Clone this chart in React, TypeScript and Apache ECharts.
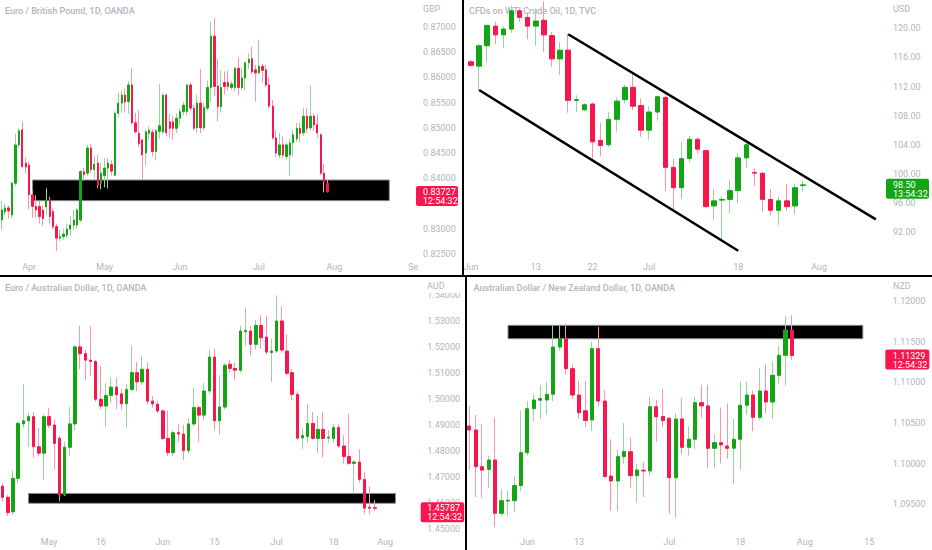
import { useEffect, useRef } from 'react';
import * as echarts from 'echarts';

// [open, close, low, high]
type Bar = [number, number, number, number];

const EURGBP: Bar[] = [
  [0.8317, 0.8337, 0.8297, 0.8355], [0.8333, 0.8341, 0.8326, 0.835], [0.8341, 0.8335, 0.832, 0.8346],
  [0.8327, 0.839, 0.832, 0.8394], [0.839, 0.8466, 0.8385, 0.8488], [0.8466, 0.8494, 0.846, 0.8499],
  [0.8496, 0.8423, 0.842, 0.8512], [0.843, 0.8422, 0.841, 0.844], [0.8426, 0.8367, 0.8338, 0.8432],
  [0.8367, 0.8344, 0.8322, 0.8375], [0.8344, 0.8337, 0.8322, 0.8366], [0.8344, 0.8324, 0.831, 0.8355],
  [0.8337, 0.832, 0.8305, 0.8346], [0.8343, 0.8357, 0.8327, 0.838], [0.8357, 0.8324, 0.831, 0.8363],
  [0.8334, 0.8304, 0.8298, 0.834], [0.8304, 0.8281, 0.8255, 0.831], [0.8281, 0.8284, 0.8275, 0.8298],
  [0.8284, 0.8289, 0.8278, 0.83], [0.8287, 0.8299, 0.8281, 0.831], [0.8299, 0.8307, 0.8285, 0.8325],
  [0.8307, 0.8317, 0.8297, 0.8337], [0.8307, 0.8337, 0.83, 0.8341], [0.8317, 0.8413, 0.8313, 0.8416],
  [0.8413, 0.8407, 0.8395, 0.842], [0.841, 0.846, 0.8405, 0.8466], [0.846, 0.8417, 0.841, 0.8468],
  [0.8417, 0.8428, 0.84, 0.8445], [0.843, 0.8386, 0.838, 0.8446], [0.839, 0.841, 0.8378, 0.843],
  [0.8405, 0.842, 0.8382, 0.844], [0.842, 0.843, 0.838, 0.844], [0.8427, 0.8414, 0.8405, 0.8436],
  [0.8406, 0.8529, 0.8404, 0.8533], [0.8529, 0.8549, 0.852, 0.857], [0.8549, 0.8565, 0.853, 0.8574],
  [0.8565, 0.8551, 0.853, 0.8578], [0.8552, 0.8585, 0.8528, 0.8593], [0.8585, 0.851, 0.8507, 0.8618],
  [0.851, 0.8492, 0.8489, 0.853], [0.8489, 0.8469, 0.8462, 0.8535], [0.8476, 0.8446, 0.8396, 0.8478],
  [0.845, 0.8492, 0.8425, 0.8497], [0.8489, 0.8495, 0.8476, 0.8503], [0.8491, 0.8453, 0.8443, 0.8497],
  [0.8453, 0.8494, 0.8436, 0.8498], [0.8493, 0.8504, 0.8478, 0.8587], [0.8492, 0.8565, 0.8488, 0.8568],
  [0.8565, 0.849, 0.8484, 0.8568], [0.8512, 0.8499, 0.848, 0.8527], [0.8512, 0.8499, 0.8476, 0.8523],
  [0.8499, 0.8519, 0.849, 0.8529], [0.8519, 0.8532, 0.8506, 0.8538], [0.8532, 0.8545, 0.8525, 0.8552],
  [0.8532, 0.8585, 0.8525, 0.8587], [0.8585, 0.8539, 0.8534, 0.859], [0.8539, 0.8499, 0.8495, 0.8546],
  [0.85, 0.8549, 0.8491, 0.8566], [0.8549, 0.85, 0.8489, 0.8617], [0.85, 0.854, 0.8493, 0.8549],
  [0.8539, 0.858, 0.8534, 0.8594], [0.858, 0.8682, 0.855, 0.8711], [0.8682, 0.8582, 0.8564, 0.8717],
  [0.8583, 0.8542, 0.8513, 0.8637], [0.8542, 0.858, 0.853, 0.8614], [0.859, 0.8582, 0.8566, 0.8612],
  [0.859, 0.8582, 0.8574, 0.8614], [0.858, 0.8587, 0.8575, 0.8592], [0.858, 0.8618, 0.8572, 0.8621],
  [0.8618, 0.858, 0.8565, 0.864], [0.858, 0.8599, 0.8575, 0.862], [0.8599, 0.8629, 0.8574, 0.8632],
  [0.8629, 0.8636, 0.8616, 0.8648], [0.8637, 0.8611, 0.8606, 0.8661], [0.8615, 0.8609, 0.8552, 0.8625],
  [0.8609, 0.8622, 0.8607, 0.8675], [0.8622, 0.8614, 0.859, 0.8627], [0.8615, 0.8585, 0.858, 0.8625],
  [0.8585, 0.8543, 0.8538, 0.8601], [0.8543, 0.848, 0.8476, 0.8555], [0.848, 0.845, 0.8443, 0.8496],
  [0.8446, 0.8466, 0.844, 0.849], [0.8466, 0.8446, 0.844, 0.8483], [0.8443, 0.8466, 0.8437, 0.847],
  [0.8446, 0.847, 0.8404, 0.8478], [0.847, 0.8486, 0.8442, 0.8496], [0.8478, 0.8499, 0.8472, 0.851],
  [0.8499, 0.8489, 0.8472, 0.851], [0.849, 0.8523, 0.8484, 0.854], [0.8523, 0.8499, 0.849, 0.854],
  [0.85, 0.8523, 0.8495, 0.8584], [0.8523, 0.8506, 0.8494, 0.8529], [0.8506, 0.849, 0.848, 0.8526],
  [0.8486, 0.841, 0.8406, 0.849], [0.841, 0.8393, 0.8372, 0.8428], [0.839, 0.83727, 0.8372, 0.8398],
];

const WTI: Bar[] = [
  [115.4, 114.9, 114.7, 115.65], [114.8, 117.6, 111.5, 117.85], [117.6, 120.4, 115.4, 120.5],
  [120.3, 119.1, 117.8, 120.9], [119.1, 119.9, 117.25, 120.3], [119.9, 122.4, 119.4, 123.1],
  [122.4, 121.5, 120.9, 122.7], [121.5, 120.3, 118.5, 122.1], [120.3, 121.0, 117.6, 122.7],
  [121.1, 119.1, 116.8, 123.7], [119.0, 115.8, 114.7, 119.5], [115.8, 117.0, 113.6, 118.1],
  [117.0, 110.1, 108.4, 119.2], [110.1, 110.2, 108.5, 110.8], [108.8, 109.5, 108.6, 109.7],
  [109.6, 104.4, 101.9, 109.8], [104.6, 103.9, 102.4, 107.0], [104.0, 107.5, 103.7, 108.55],
  [107.5, 110.0, 105.8, 110.5], [110.2, 111.9, 109.7, 112.2], [111.9, 109.3, 108.8, 114.0],
  [109.4, 106.0, 105.1, 110.4], [106.0, 108.5, 104.7, 109.3], [108.5, 110.6, 107.3, 110.75],
  [110.5, 100.9, 97.6, 110.9], [100.9, 98.1, 95.0, 102.1], [98.1, 102.1, 96.6, 104.4],
  [102.1, 104.75, 101.6, 105.2], [104.75, 103.4, 102.8, 105.1], [103.2, 95.5, 95.4, 103.3],
  [95.6, 96.3, 93.7, 97.9], [96.4, 96.5, 90.7, 96.9], [96.5, 97.7, 94.6, 99.1],
  [97.7, 102.2, 96.0, 102.9], [102.2, 104.0, 100.8, 104.3], [100.2, 100.1, 98.3, 100.75],
  [100.1, 96.5, 94.8, 100.2], [96.5, 95.0, 94.3, 97.9], [95.0, 96.3, 93.0, 96.9],
  [96.3, 95.5, 94.9, 98.6], [95.6, 98.1, 94.4, 98.7], [98.4, 98.5, 97.6, 99.1],
];

const EURAUD: Bar[] = [
  [1.4664, 1.4621, 1.4605, 1.4674], [1.4621, 1.4562, 1.4549, 1.463], [1.4565, 1.4694, 1.4552, 1.4724],
  [1.4694, 1.4906, 1.4676, 1.4912], [1.4904, 1.4916, 1.4888, 1.5057], [1.4916, 1.4932, 1.4816, 1.4947],
  [1.4932, 1.4816, 1.4773, 1.495], [1.4816, 1.4791, 1.478, 1.4888], [1.4791, 1.4932, 1.4688, 1.4942],
  [1.4932, 1.4899, 1.4888, 1.4966], [1.49, 1.4829, 1.4728, 1.492], [1.4849, 1.463, 1.4605, 1.4859],
  [1.463, 1.4814, 1.4626, 1.4836], [1.4814, 1.4904, 1.4781, 1.4969], [1.4904, 1.5201, 1.488, 1.5207],
  [1.5201, 1.5175, 1.5115, 1.5282], [1.5175, 1.515, 1.5073, 1.519], [1.515, 1.5145, 1.5088, 1.5282],
  [1.5145, 1.4999, 1.499, 1.515], [1.4999, 1.4973, 1.496, 1.5127], [1.4973, 1.5014, 1.4893, 1.506],
  [1.5014, 1.5046, 1.4985, 1.5082], [1.5046, 1.5016, 1.496, 1.5082], [1.502, 1.4982, 1.4958, 1.504],
  [1.4982, 1.5037, 1.489, 1.506], [1.5037, 1.5102, 1.503, 1.5207], [1.5102, 1.5066, 1.503, 1.5143],
  [1.5066, 1.5115, 1.5055, 1.5165], [1.5115, 1.4992, 1.498, 1.5141], [1.4992, 1.4981, 1.4967, 1.5011],
  [1.498, 1.4954, 1.4945, 1.4993], [1.4954, 1.4848, 1.4841, 1.496], [1.4848, 1.4793, 1.478, 1.4954],
  [1.4793, 1.487, 1.4778, 1.488], [1.487, 1.4865, 1.4835, 1.4905], [1.4865, 1.4801, 1.4764, 1.49],
  [1.4801, 1.4904, 1.479, 1.4926], [1.4904, 1.4967, 1.4895, 1.5044], [1.4967, 1.4938, 1.4835, 1.4975],
  [1.4938, 1.5031, 1.4918, 1.5061], [1.5031, 1.5162, 1.502, 1.5189], [1.5162, 1.4916, 1.488, 1.5194],
  [1.4916, 1.4969, 1.4862, 1.5092], [1.4969, 1.513, 1.496, 1.5138], [1.5134, 1.5118, 1.5102, 1.515],
  [1.5118, 1.5111, 1.5075, 1.514], [1.5111, 1.5262, 1.5102, 1.5282], [1.526, 1.5265, 1.5206, 1.5352],
  [1.5262, 1.5211, 1.5168, 1.5282], [1.5211, 1.5284, 1.519, 1.5304], [1.5284, 1.5236, 1.5193, 1.5323],
  [1.5239, 1.5181, 1.5171, 1.532], [1.5179, 1.5185, 1.5065, 1.5233], [1.5185, 1.5301, 1.5178, 1.54],
  [1.5301, 1.5189, 1.5178, 1.5357], [1.5185, 1.5099, 1.5091, 1.5249], [1.5102, 1.5018, 1.4995, 1.5115],
  [1.5018, 1.4849, 1.484, 1.503], [1.485, 1.4859, 1.4808, 1.489], [1.4855, 1.4906, 1.4832, 1.4981],
  [1.4906, 1.4848, 1.4843, 1.495], [1.4848, 1.4883, 1.4792, 1.4935], [1.4883, 1.4848, 1.4775, 1.495],
  [1.485, 1.4853, 1.483, 1.488], [1.4848, 1.489, 1.483, 1.4905], [1.489, 1.4819, 1.481, 1.4905],
  [1.4819, 1.4778, 1.4751, 1.486], [1.4778, 1.4752, 1.4745, 1.4943], [1.4752, 1.4757, 1.464, 1.4766],
  [1.4757, 1.469, 1.4677, 1.4806], [1.469, 1.4579, 1.4557, 1.472], [1.4583, 1.4579, 1.4557, 1.4662],
  [1.4581, 1.45787, 1.4569, 1.461],
];

const AUDNZD: Bar[] = [
  [1.10463, 1.10414, 1.09922, 1.10709], [1.10414, 1.09963, 1.0959, 1.106], [1.09963, 1.0992, 1.0958, 1.1048],
  [1.0993, 1.10045, 1.097, 1.101], [1.10045, 1.0939, 1.0922, 1.1056], [1.0939, 1.09545, 1.0936, 1.0969],
  [1.0954, 1.0955, 1.0935, 1.0967], [1.09545, 1.0973, 1.094, 1.0985], [1.0973, 1.10135, 1.0966, 1.10655],
  [1.10135, 1.10676, 1.101, 1.1077], [1.10676, 1.10783, 1.1052, 1.1085], [1.1078, 1.108, 1.1055, 1.1097],
  [1.10783, 1.10853, 1.106, 1.11], [1.10853, 1.11434, 1.1077, 1.117], [1.11434, 1.11536, 1.1139, 1.117],
  [1.11536, 1.11168, 1.111, 1.1172], [1.11168, 1.10844, 1.108, 1.1122], [1.10844, 1.10627, 1.1055, 1.1102],
  [1.1065, 1.1053, 1.1045, 1.1102], [1.10537, 1.11414, 1.104, 1.115], [1.11414, 1.1077, 1.107, 1.1168],
  [1.1077, 1.09842, 1.0982, 1.109], [1.09848, 1.09787, 1.0942, 1.103], [1.09787, 1.10086, 1.0942, 1.1017],
  [1.10086, 1.1015, 1.1, 1.105], [1.10147, 1.09852, 1.097, 1.1032], [1.09852, 1.09922, 1.0952, 1.1],
  [1.0992, 1.0991, 1.0959, 1.1002], [1.0991, 1.107, 1.0985, 1.10823], [1.107, 1.10577, 1.1027, 1.1078],
  [1.1058, 1.1053, 1.1045, 1.1092], [1.10558, 1.09827, 1.0938, 1.1057], [1.09827, 1.10548, 1.0933, 1.1062],
  [1.1055, 1.10201, 1.1012, 1.10804], [1.10201, 1.103, 1.101, 1.1046], [1.103, 1.1075, 1.1018, 1.1082],
  [1.1075, 1.1071, 1.1057, 1.1097], [1.1071, 1.10189, 1.0995, 1.1097], [1.10189, 1.10258, 1.0995, 1.1036],
  [1.10258, 1.1023, 1.1, 1.1069], [1.10217, 1.10189, 1.1006, 1.1074], [1.1019, 1.103, 1.0975, 1.1055],
  [1.103, 1.10718, 1.0992, 1.1101], [1.10718, 1.10844, 1.106, 1.1101], [1.10844, 1.1057, 1.104, 1.109],
  [1.1057, 1.10893, 1.1053, 1.1118], [1.10893, 1.10758, 1.1062, 1.1122], [1.10758, 1.11086, 1.1055, 1.1126],
  [1.11086, 1.11332, 1.1098, 1.1145], [1.11332, 1.11643, 1.1096, 1.1181], [1.11643, 1.11329, 1.1127, 1.11826],
];

// date tick labels: category index -> text
const EURGBP_TICK_POS = [8, 30, 52, 75, 97, 120];
const EURGBP_TICK_TXT = ['Apr', 'May', 'Jun', 'Jul', 'Aug', 'Se'];
const WTI_TICK_POS = [0, 8, 15, 22, 33, 43];
const WTI_TICK_TXT = ['Jun', '13', '22', 'Jul', '18', 'Aug'];
const EURAUD_TICK_POS = [9, 19, 31, 41, 53, 64, 74];
const EURAUD_TICK_TXT = ['May', '16', 'Jun', '15', 'Jul', '18', 'Aug'];
const AUDNZD_TICK_POS = [9, 17, 31, 42, 52, 62];
const AUDNZD_TICK_TXT = ['Jun', '13', 'Jul', '18', 'Aug', '15'];

// price tick labels
const EURGBP_PRICES = [0.825, 0.83, 0.84, 0.845, 0.85, 0.855, 0.86, 0.865, 0.87];
const WTI_PRICES = [92, 96, 100, 104, 108, 112, 116, 120];
const EURAUD_PRICES = [1.45, 1.46, 1.47, 1.48, 1.49, 1.5, 1.51, 1.52, 1.53, 1.54];
const AUDNZD_PRICES = [1.095, 1.1, 1.105, 1.11, 1.115, 1.12];

// drawn zones [fromIndex, toIndex, lowPrice, highPrice]
const EURGBP_ZONE = [9, 113, 0.83554, 0.83964];
const EURAUD_ZONE = [5, 76, 1.4598, 1.4636];
const AUDNZD_ZONE = [6, 61, 1.11536, 1.11701];
// channel lines [[i1, p1], [i2, p2]]
const WTI_CHANNEL = [
  [[12, 119.18], [50, 93.76]],
  [[1, 111.52], [33, 89.45]],
];

const TITLES = [
  'Euro / British Pound, 1D, OANDA',
  'CFDs on WTI Crude Oil, 1D, TVC',
  'Euro / Australian Dollar, 1D, OANDA',
  'Australian Dollar / New Zealand Dollar, 1D, OANDA',
];
const CURRENCIES = ['GBP', 'USD', 'AUD', 'NZD'];
const COUNTDOWNS = ['12:54:32', '13:54:32', '12:54:32', '12:54:32'];

const UP = '#14a514';
const DOWN = '#f8174c';
const UP_WICK = '#98d698';
const DOWN_WICK = '#ff93ab';
const TEXT = '#b2b5be';
const FONT = 'Roboto, "Noto Sans", sans-serif';

export default function App() {
  const ref = useRef<HTMLDivElement>(null);

  useEffect(() => {
    if (!ref.current) return;
    const chart = echarts.init(ref.current, undefined, { renderer: 'svg' });

    const panels = [
      {
        data: EURGBP, ticksPos: EURGBP_TICK_POS, ticksTxt: EURGBP_TICK_TXT, prices: EURGBP_PRICES, digits: 5,
        grid: { left: 0, top: 0, width: 415, height: 258 }, n: 121, ymin: 0.824167, ymax: 0.875357,
        body: 1.8, ymargin: 8, zone: EURGBP_ZONE, lines: null as any,
        title: [5, 11], cur: [423, 8.5], tag: [416, 42, 423], tagColor: DOWN,
      },
      {
        data: WTI, ticksPos: WTI_TICK_POS, ticksTxt: WTI_TICK_TXT, prices: WTI_PRICES, digits: 2,
        grid: { left: 467, top: 0, width: 421, height: 258 }, n: 52, ymin: 88.448, ymax: 123.887,
        body: 5, ymargin: 5, zone: null as any, lines: WTI_CHANNEL,
        title: [469, 10.5], cur: [893, 8.5], tag: [886, 43, 893], tagColor: UP,
      },
      {
        data: EURAUD, ticksPos: EURAUD_TICK_POS, ticksTxt: EURAUD_TICK_TXT, prices: EURAUD_PRICES, digits: 5,
        grid: { left: 0, top: 278, width: 413.6, height: 255 }, n: 80, ymin: 1.448331, ymax: 1.546672,
        body: 3, ymargin: 13.7, zone: EURAUD_ZONE, lines: null as any,
        title: [5, 288], cur: [427, 286], tag: [420.7, 43.5, 427.3], tagColor: DOWN,
      },
      {
        data: AUDNZD, ticksPos: AUDNZD_TICK_POS, ticksTxt: AUDNZD_TICK_TXT, prices: AUDNZD_PRICES, digits: 5,
        grid: { left: 466.1, top: 278, width: 419.3, height: 255 }, n: 65, ymin: 1.091474, ymax: 1.122828,
        body: 3.7, ymargin: 7.3, zone: AUDNZD_ZONE, lines: null as any,
        title: [473.5, 288], cur: [893, 286], tag: [885.3, 44, 892.7], tagColor: DOWN,
      },
    ];

    const grids: any[] = [];
    const xAxes: any[] = [];
    const yAxes: any[] = [];
    const series: any[] = [];

    panels.forEach((p, k) => {
      grids.push({ ...p.grid, outerBoundsMode: 'none', containLabel: false });
      const tickMap: Record<number, string> = {};
      p.ticksPos.forEach((pos, i) => { tickMap[pos] = p.ticksTxt[i]; });
      xAxes.push({
        type: 'category', gridIndex: k, boundaryGap: true,
        data: Array.from({ length: p.n }, (_, i) => String(i)),
        axisLine: { show: false }, axisTick: { show: false }, splitLine: { show: false },
        axisLabel: {
          interval: 0, margin: 4, color: TEXT, fontSize: 9, fontFamily: FONT,
          formatter: (v: string) => tickMap[Number(v)] ?? '',
        },
      });
      yAxes.push({
        type: 'value', gridIndex: k, position: 'right', min: p.ymin, max: p.ymax,
        axisLine: { show: false }, axisTick: { show: false }, splitLine: { show: false },
        axisLabel: {
          customValues: p.prices, margin: p.ymargin, color: TEXT, fontSize: 9, fontFamily: FONT,
          formatter: (v: number) => v.toFixed(p.digits),
        },
      });
      const wick: any = {
        type: 'candlestick', xAxisIndex: k, yAxisIndex: k, z: 2,
        data: p.data.map((d) => [d[0], d[1], d[2], d[3]]),
        barWidth: 0.5,
        itemStyle: { color: UP_WICK, color0: DOWN_WICK, borderColor: UP_WICK, borderColor0: DOWN_WICK, borderWidth: 1 },
        silent: true,
      };
      if (p.zone) {
        wick.markArea = {
          silent: true,
          itemStyle: { color: '#000', borderColor: '#8a8d96', borderWidth: 1 },
          data: [[{ coord: [p.zone[0], p.zone[3]] }, { coord: [p.zone[1], p.zone[2]] }]],
        };
      }
      if (p.lines) {
        wick.markLine = {
          silent: true, symbol: ['none', 'none'], label: { show: false },
          lineStyle: { color: '#000', width: 2.5, type: 'solid' },
          data: p.lines.map((l: number[][]) => [{ coord: l[0] }, { coord: l[1] }]),
        };
      }
      series.push(wick);
      series.push({
        type: 'candlestick', xAxisIndex: k, yAxisIndex: k, z: 3,
        data: p.data.map((d) => [d[0], d[1], Math.min(d[0], d[1]), Math.max(d[0], d[1])]),
        barWidth: p.body,
        itemStyle: { color: UP, color0: DOWN, borderColor: UP, borderColor0: DOWN, borderWidth: 1 },
        silent: true,
      });
    });

    chart.setOption({
      animation: false,
      backgroundColor: '#ffffff',
      grid: grids,
      xAxis: xAxes,
      yAxis: yAxes,
      series,
    });

    const elements: any[] = [];
    panels.forEach((p, k) => {
      elements.push({
        type: 'text', x: p.title[0], y: p.title[1], z: 0,
        style: { text: TITLES[k], fill: TEXT, font: `500 9px ${FONT}`, verticalAlign: 'middle', align: 'left' },
      });
      const last = p.data[p.data.length - 1][1];
      const y = chart.convertToPixel({ yAxisIndex: k } as any, last) as number;
      const [tx, tw, textX] = p.tag;
      elements.push({
        type: 'rect', z: 100,
        shape: { x: tx, y: y - 6, width: tw, height: 20, r: 2 },
        style: { fill: p.tagColor },
      });
      elements.push({
        type: 'text', x: textX, y: y, z: 101,
        style: { text: last.toFixed(p.digits), fill: '#ffffff', font: `9px ${FONT}`, verticalAlign: 'middle', align: 'left' },
      });
      elements.push({
        type: 'text', x: textX, y: y + 9, z: 101,
        style: { text: COUNTDOWNS[k], fill: '#ffffff', font: `9px ${FONT}`, verticalAlign: 'middle', align: 'left' },
      });
    });
    // cover strip behind the currency labels of the lower panels
    elements.push({ type: 'rect', z: 50, shape: { x: 416, y: 277, width: 48, height: 16 }, style: { fill: '#fff' } });
    panels.forEach((p, k) => {
      elements.push({
        type: 'text', x: p.cur[0], y: p.cur[1], z: 60,
        style: { text: CURRENCIES[k], fill: TEXT, font: `9px ${FONT}`, verticalAlign: 'middle', align: 'left' },
      });
    });
    // panel dividers
    elements.push({ type: 'rect', z: 120, shape: { x: 462, y: 0, width: 2, height: 276 }, style: { fill: '#000' } });
    elements.push({ type: 'rect', z: 120, shape: { x: 465, y: 276, width: 2, height: 274 }, style: { fill: '#000' } });
    elements.push({ type: 'rect', z: 120, shape: { x: 0, y: 275, width: 932, height: 2 }, style: { fill: '#000' } });

    chart.setOption({ graphic: { elements } });

    return () => chart.dispose();
  }, []);

  return (
    <div
      ref={ref}
      style={{ position: 'fixed', left: 0, top: 0, width: 932, height: 550, background: '#fff' }}
    />
  );
}
